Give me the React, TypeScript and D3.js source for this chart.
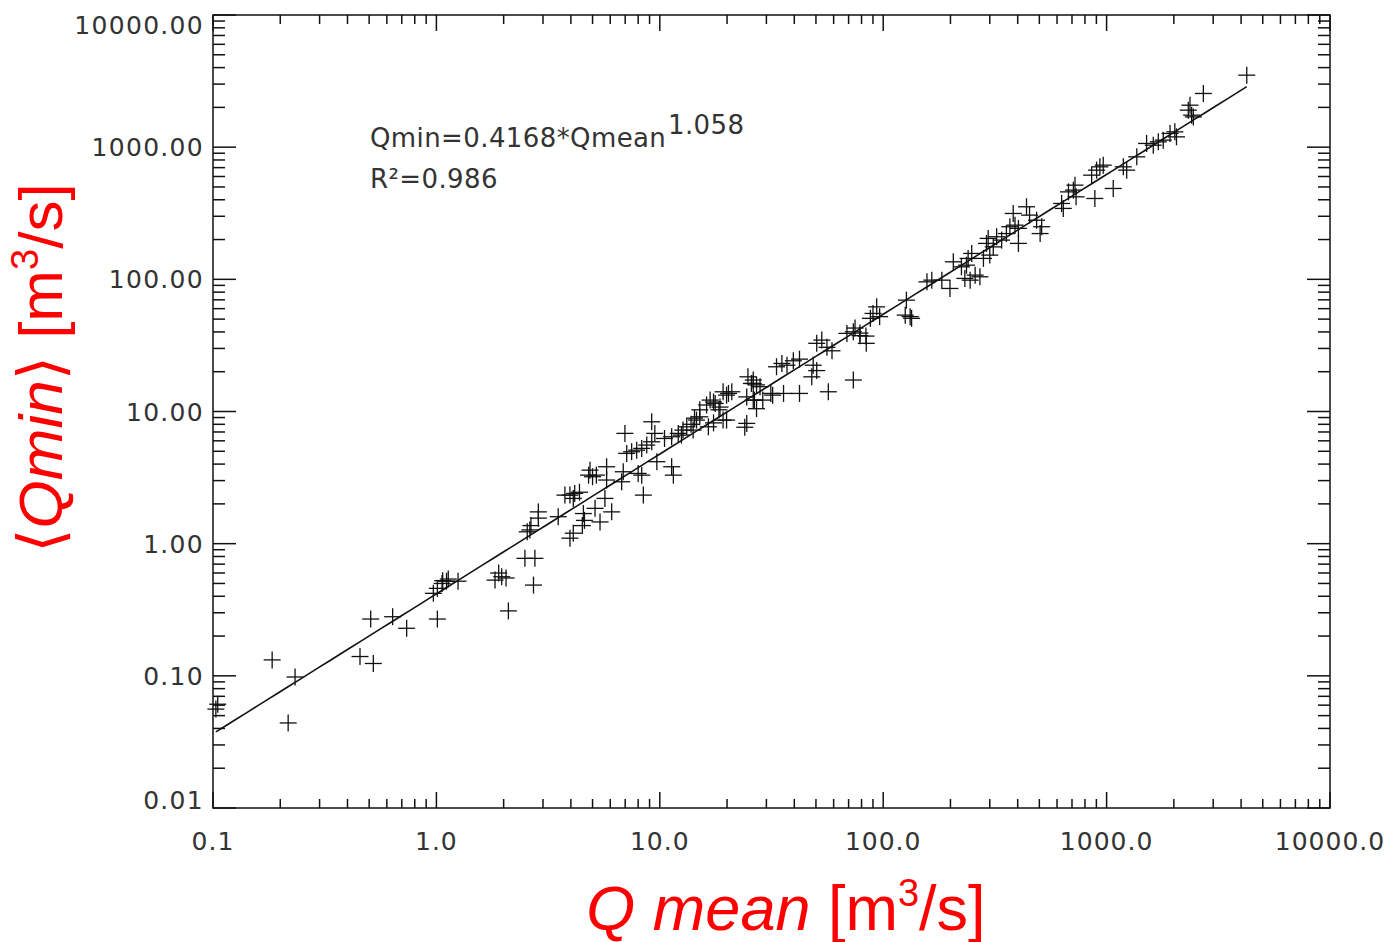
import React from "react";
import * as d3 from "d3";

const qMean: number[] = [
  0.105, 0.103, 0.184, 0.233, 0.217, 0.455, 0.522, 0.508, 0.637, 0.736,
  1.01, 0.969, 1.01, 1.067, 1.11, 1.06, 1.13, 1.25, 1.83, 1.96,
  1.9, 2.05, 2.1, 2.72, 2.49, 2.76, 2.62, 2.65, 2.55, 2.86,
  2.86, 3.51, 3.96, 4.1, 3.76, 3.96, 4.16, 4.37, 4.1, 4.55,
  4.6, 4.5, 5.4, 5.13, 5.68, 6.09, 4.8, 5.2, 5.78, 6.75,
  8.3, 8.44, 4.87, 5.0, 5.78, 6.86, 6.98, 7.11, 7.48, 7.88,
  8.3, 8.0, 8.74, 9.2, 9.2, 9.5, 9.7, 10.5, 11.3, 11.3,
  11.5, 12.5, 13.2, 14.1, 14.6, 15.1, 15.1, 16.2, 17.4, 18.4,
  16.5, 17.4, 19.9, 21.0, 19.9, 24.5, 24.0, 26.2, 28.1, 26.5,
  28.9, 32.0, 12.7, 12.1, 13.8, 14.3, 16.8, 17.7, 18.6, 19.2,
  20.3, 19.2, 24.8, 26.2, 25.7, 27.1, 24.5, 26.2, 27.1, 33.3,
  35.2, 37.1, 39.6, 42.2, 31.4, 35.8, 42.2, 48.6, 50.4, 47.9,
  50.4, 53.1, 56.0, 59.0, 56.8, 73.5, 68.8, 73.5, 78.7, 84.0,
  93.5, 90.0, 96.4, 87.6, 127, 125.5, 132, 134, 157, 165,
  183, 199, 206, 224, 236, 240, 249, 232, 245, 258,
  271, 281, 300, 290, 311, 295, 322, 339, 356, 369,
  389, 403, 403, 382, 438, 452, 486, 512, 504, 629,
  640, 710, 722, 675, 730, 857, 902, 933, 966, 886,
  1071, 1188, 1230, 1365, 1510, 1618, 1704, 1793, 1923, 2020,
  2055, 2321, 2362, 2403, 2445, 2711, 4240, 74.8, 78.7, 83.7,
];

const qMin: number[] = [
  0.061, 0.056, 0.132, 0.098, 0.044, 0.14, 0.124, 0.269, 0.28, 0.229,
  0.269, 0.421, 0.459, 0.525, 0.52, 0.5, 0.54, 0.52, 0.53, 0.562,
  0.6, 0.55, 0.31, 0.486, 0.774, 0.774, 1.27, 1.37, 1.23, 1.74,
  1.56, 1.6, 1.1, 1.2, 2.33, 2.33, 2.4, 2.45, 2.2, 1.69,
  1.5, 1.37, 1.46, 1.85, 2.2, 1.74, 3.3, 3.3, 3.03, 2.94,
  3.3, 2.33, 3.6, 3.21, 3.82, 3.5, 6.83, 4.82, 4.96, 5.1,
  5.26, 3.4, 5.57, 5.9, 8.36, 6.83, 4.17, 6.25, 6.44, 3.82,
  3.3, 6.63, 7.66, 7.23, 8.61, 9.12, 10.3, 11.2, 11.8, 10.3,
  7.66, 8.2, 13.3, 14.1, 8.61, 8.13, 7.6, 16.3, 15.4, 12.2,
  12.2, 13.3, 7.23, 6.83, 8.0, 8.9, 12.2, 11.5, 10.8, 14.1,
  13.7, 8.61, 18.3, 17.3, 16.3, 15.9, 12.9, 12.2, 10.5, 21.8,
  23.1, 22.4, 24.2, 24.9, 13.7, 13.7, 13.7, 22.4, 20.4, 18.3,
  32.8, 34.7, 30.6, 28.8, 14.1, 17.3, 39.0, 40.1, 37.5, 32.8,
  61.9, 55.2, 52.2, 50.7, 69.6, 53.6, 52.2, 50.7, 95.7, 98.6,
  98.6, 85.3, 135.7, 124.4, 128, 144, 157, 101.6, 98.6, 107.6,
  104.5, 144, 152.5, 187, 176, 204, 210, 198, 222, 250,
  257, 243, 187, 315, 354, 306, 280, 250, 222, 375,
  344, 473, 516, 459, 421, 614, 670, 710, 731, 409,
  487, 710, 670, 845, 1067, 1035, 1097, 1130, 1270, 1306,
  1197, 1905, 2078, 1746, 1694, 2548, 3506, 42.8, 39.2, 37.2,
];

const xTickValues: number[] = [0.1, 1, 10, 100, 1000, 10000];
const xTickLabels: string[] = ["0.1", "1.0", "10.0", "100.0", "1000.0", "10000.0"];
const yTickValues: number[] = [0.01, 0.1, 1, 10, 100, 1000, 10000];
const yTickLabels: string[] = ["0.01", "0.10", "1.00", "10.00", "100.00", "1000.00", "10000.00"];

const fitA = 0.4168;
const fitB = 1.058;

const W = 1389;
const H = 942;
const L = 213, R = 1330, T = 15, B = 808;

export default function App() {
  const x = d3.scaleLog().domain([0.1, 10000]).range([L, R]);
  const y = d3.scaleLog().domain([0.01, 10000]).range([B, T]);

  const minorX: number[] = [];
  for (let e = -1; e < 4; e++) for (let k = 2; k <= 9; k++) minorX.push(k * Math.pow(10, e));
  const minorY: number[] = [];
  for (let e = -2; e < 4; e++) for (let k = 2; k <= 9; k++) minorY.push(k * Math.pow(10, e));

  const xmin = d3.min(qMean) as number;
  const xmax = d3.max(qMean) as number;
  const fitPts: [number, number][] = d3.range(0, 101).map((i) => {
    const v = Math.pow(10, Math.log10(xmin) + (i / 100) * (Math.log10(xmax) - Math.log10(xmin)));
    return [v, fitA * Math.pow(v, fitB)];
  });
  const line = d3.line<[number, number]>().x((d) => x(d[0])).y((d) => y(d[1]));

  const tickFont = "'DejaVu Sans', sans-serif";
  const col = "#111";
  const txt = "#333";
  const red = "#ff0000";
  const m = 8.5;

  return (
    <div style={{ position: "absolute", left: 0, top: 0 }}>
      <svg width={W} height={H} style={{ display: "block", background: "#fff" }}>
        <rect x={0} y={0} width={W} height={H} fill="#fff" />
        <rect x={L} y={T} width={R - L} height={B - T} fill="none" stroke={col} strokeWidth={1.5} />
        {xTickValues.map((v, i) => (
          <g key={"xt" + i}>
            <line x1={x(v)} x2={x(v)} y1={B} y2={B - 16} stroke={col} strokeWidth={1.5} />
            <line x1={x(v)} x2={x(v)} y1={T} y2={T + 16} stroke={col} strokeWidth={1.5} />
          </g>
        ))}
        {minorX.map((v, i) => (
          <g key={"xm" + i}>
            <line x1={x(v)} x2={x(v)} y1={B} y2={B - 9} stroke={col} strokeWidth={1.5} />
            <line x1={x(v)} x2={x(v)} y1={T} y2={T + 9} stroke={col} strokeWidth={1.5} />
          </g>
        ))}
        {yTickValues.map((v, i) => (
          <g key={"yt" + i}>
            <line x1={L} x2={L + 23} y1={y(v)} y2={y(v)} stroke={col} strokeWidth={1.5} />
            <line x1={R} x2={R - 23} y1={y(v)} y2={y(v)} stroke={col} strokeWidth={1.5} />
          </g>
        ))}
        {minorY.map((v, i) => (
          <g key={"ym" + i}>
            <line x1={L} x2={L + 12} y1={y(v)} y2={y(v)} stroke={col} strokeWidth={1.5} />
            <line x1={R} x2={R - 12} y1={y(v)} y2={y(v)} stroke={col} strokeWidth={1.5} />
          </g>
        ))}
        {xTickValues.map((v, i) => (
          <text key={"xl" + i} x={x(v)} y={850} textAnchor="middle" fontFamily={tickFont} fontSize={25} letterSpacing={1} fill={txt}>
            {xTickLabels[i]}
          </text>
        ))}
        {yTickValues.map((v, i) => {
          const cy = Math.min(800, Math.max(25, y(v)));
          return (
            <text key={"yl" + i} x={204} y={cy + 9} textAnchor="end" fontFamily={tickFont} fontSize={25} letterSpacing={1.3} fill={txt}>
              {yTickLabels[i]}
            </text>
          );
        })}
        <path d={line(fitPts) || ""} fill="none" stroke={col} strokeWidth={1.6} />
        {qMean.map((v, i) => {
          const px = x(v);
          const py = y(qMin[i]);
          return (
            <g key={"p" + i}>
              <line x1={px - m} x2={px + m} y1={py} y2={py} stroke={col} strokeWidth={1.3} />
              <line x1={px} x2={px} y1={py - m} y2={py + m} stroke={col} strokeWidth={1.3} />
            </g>
          );
        })}
        <text x={370} y={147} fontFamily={tickFont} fontSize={26} letterSpacing={0.4} fill={txt}>
          Qmin=0.4168*Qmean
        </text>
        <text x={668} y={134} fontFamily={tickFont} fontSize={26} letterSpacing={0.4} fill={txt}>
          1.058
        </text>
        <text x={370} y={188} fontFamily={tickFont} fontSize={26} letterSpacing={0.4} fill={txt}>
          R²=0.986
        </text>
        <text x={786} y={930} textAnchor="middle" fontFamily="'Liberation Sans', Arial, sans-serif" fontSize={63} fill={red}>
          <tspan fontStyle="italic">Q mean</tspan>
          <tspan> [m</tspan>
          <tspan fontSize={38} dy={-24}>3</tspan>
          <tspan dy={24}>/s]</tspan>
        </text>
        <text
          transform={`translate(62, 368) rotate(-90)`}
          textAnchor="middle"
          fontFamily="'Liberation Sans', Arial, sans-serif"
          fontSize={62}
          fill={red}
        >
          <tspan fontFamily="'DejaVu Sans', sans-serif">⟨</tspan>
          <tspan fontStyle="italic">Qmin</tspan>
          <tspan fontFamily="'DejaVu Sans', sans-serif">⟩</tspan>
          <tspan> [m</tspan>
          <tspan fontSize={38} dy={-24}>3</tspan>
          <tspan dy={24}>/s]</tspan>
        </text>
      </svg>
    </div>
  );
}
